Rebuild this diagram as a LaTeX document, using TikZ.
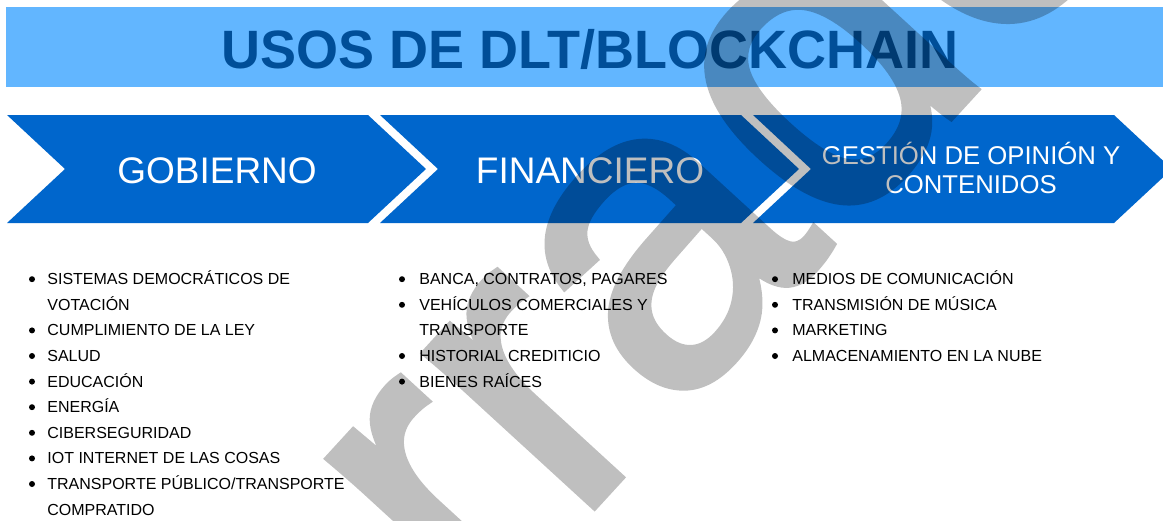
\documentclass[tikz,border=0pt]{standalone}
\usepackage{fontspec}
\setmainfont{Liberation Sans}
\newfontfamily\wmfont[FakeBold=2]{Liberation Sans}
\definecolor{barblue}{RGB}{98,182,255}
\definecolor{titleblue}{RGB}{0,78,152}
\definecolor{chevblue}{RGB}{0,102,204}
\tikzset{
  chev/.style={fill=chevblue, draw=none},
  chevtext/.style={text=white, anchor=base, inner sep=0, font=\fontsize{18.5}{22}\selectfont},
  chevsmall/.style={text=white, anchor=base, inner sep=0, font=\fontsize{12.85}{14.5}\selectfont},
  item/.style={anchor=base west, inner sep=0, text=black, font=\fontsize{8}{9.6}\selectfont},
  dot/.style={circle, fill=black, draw=none, inner sep=0, minimum size=3pt},
  wmark/.style={rotate=47.5, anchor=base west, inner sep=0, text=black,
                font=\wmfont\fontsize{215}{215}\selectfont}
}
\begin{document}
\begin{tikzpicture}[x=0.5pt,y=-0.5pt]
\useasboundingbox (0,0) rectangle (1163,520);
\fill[white] (0,0) rectangle (1163,520);
% title bar
\fill[barblue] (6,7) rectangle (1163,87);
\node[anchor=base, inner sep=0, text=titleblue, font=\bfseries\fontsize{27}{30}\selectfont] (title) at (590,68) {USOS DE DLT/BLOCKCHAIN};
% chevrons
\foreach \L [count=\k] in {7,380,753}{
  \fill[chev] (\L,115) -- ({\L+361},115) -- ({\L+419},169) -- ({\L+361},223) -- (\L,223) -- ({\L+58},169) -- cycle;
}
\node[chevtext] (gob) at (217,183) {GOBIERNO};
\node[chevtext] (fin) at (590,183) {FINANCIERO};
\node[chevsmall] (ges1) at (971,164) {GESTIÓN DE OPINIÓN Y};
\node[chevsmall] (ges2) at (971,193) {CONTENIDOS};
% column 1
\node[item] (a1) at (47,284.7) {SISTEMAS DEMOCRÁTICOS DE};
\node[item] (a2) at (47,310.3) {VOTACIÓN};
\node[item] (a3) at (47,335.9) {CUMPLIMIENTO DE LA LEY};
\node[item] (a4) at (47,361.5) {SALUD};
\node[item] (a5) at (47,387.1) {EDUCACIÓN};
\node[item] (a6) at (47,412.7) {ENERGÍA};
\node[item] (a7) at (47,438.3) {CIBERSEGURIDAD};
\node[item] (a8) at (47,463.9) {IOT INTERNET DE LAS COSAS};
\node[item] (a9) at (47,489.5) {TRANSPORTE PÚBLICO/TRANSPORTE};
\node[item] (a10) at (47,515.1) {COMPRATIDO};
\foreach \y [count=\k] in {279.2,330.4,356.0,381.6,407.2,432.8,458.4,484.0}
  \node[dot] (ad\k) at (32,\y) {};
% column 2
\node[item] (b1) at (419,284.7) {BANCA, CONTRATOS, PAGARES};
\node[item] (b2) at (419,310.3) {VEHÍCULOS COMERCIALES Y};
\node[item] (b3) at (419,335.9) {TRANSPORTE};
\node[item] (b4) at (419,361.5) {HISTORIAL CREDITICIO};
\node[item] (b5) at (419,387.1) {BIENES RAÍCES};
\foreach \y [count=\k] in {279.2,304.8,356.0,381.6}
  \node[dot] (bd\k) at (402,\y) {};
% column 3
\node[item] (c1) at (792,284.7) {MEDIOS DE COMUNICACIÓN};
\node[item] (c2) at (792,310.3) {TRANSMISIÓN DE MÚSICA};
\node[item] (c3) at (792,335.9) {MARKETING};
\node[item] (c4) at (792,361.5) {ALMACENAMIENTO EN LA NUBE};
\foreach \y [count=\k] in {279.2,304.8,330.4,356.0}
  \node[dot] (cd\k) at (775,\y) {};
% watermark
\begin{scope}[transparency group, opacity=0.25]
  \clip (0,0) rectangle (1163,520);
  \node[wmark] (wm) at (122,1021) {Borrador};
\end{scope}
\end{tikzpicture}
\end{document}
